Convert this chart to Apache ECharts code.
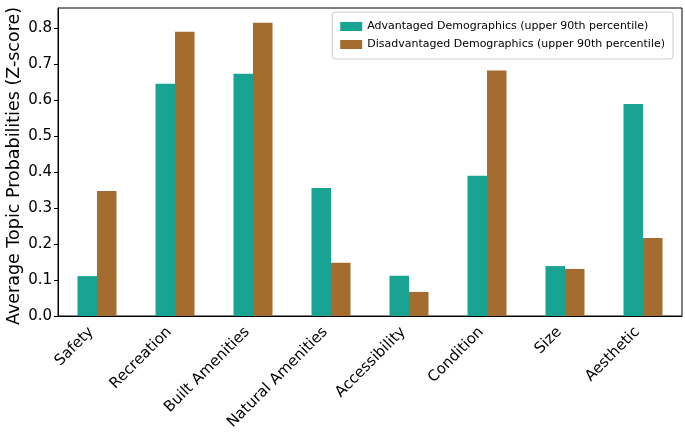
<!DOCTYPE html>
<html><head><meta charset="utf-8">
<script src="https://cdn.jsdelivr.net/npm/echarts@6/dist/echarts.min.js"></script>
<style>html,body{margin:0;padding:0;background:#fff}#c{width:685px;height:434px}</style>
</head><body><div id="c"></div>
<script>
var categories = ["Safety","Recreation","Built Amenities","Natural Amenities","Accessibility","Condition","Size","Aesthetic"];
var advantaged = [0.111,0.646,0.674,0.356,0.112,0.390,0.139,0.590];
var disadvantaged = [0.348,0.791,0.816,0.148,0.067,0.683,0.131,0.217];
var yTicks = [0.0,0.1,0.2,0.3,0.4,0.5,0.6,0.7,0.8];
var seriesNames = ["Advantaged Demographics (upper 90th percentile)","Disadvantaged Demographics (upper 90th percentile)"];
var F = "DejaVu Sans";
var chart = echarts.init(document.getElementById('c'), null, {renderer:'canvas'});
chart.setOption({
  animation:false,
  textStyle:{fontFamily:F},
  grid:{left:58,right:3,top:8,bottom:118,outerBoundsMode:'none',containLabel:false,show:true,borderColor:'#000',borderWidth:1,backgroundColor:'transparent'},
  legend:{orient:'vertical',right:12,top:12,itemWidth:22,itemHeight:9,itemGap:7,padding:[9,8,9,8],
    borderColor:'#ccc',borderWidth:1,borderRadius:3,
    textStyle:{fontFamily:F,fontSize:11,color:'#000'},data:seriesNames,icon:'rect'},
  xAxis:{type:'category',data:categories,
    axisLine:{lineStyle:{color:'#000'}},
    axisTick:{alignWithLabel:true,length:4,lineStyle:{color:'#000'}},
    axisLabel:{rotate:45,fontFamily:F,fontSize:15,color:'#000',margin:8,interval:0,padding:[0,8,0,0]}},
  yAxis:{type:'value',min:0,max:0.857,interval:0.1,
    name:'Average Topic Probabilities (Z-score)',nameLocation:'middle',nameGap:35,nameMoveOverlap:false,
    nameTextStyle:{fontFamily:F,fontSize:17.5,color:'#000',padding:[0,8,0,0]},
    splitLine:{show:false},
    axisLine:{show:true,lineStyle:{color:'#000'}},
    axisTick:{show:true,length:4,lineStyle:{color:'#000'}},
    axisLabel:{fontFamily:F,fontSize:15,color:'#000',margin:6,
      formatter:function(v){return yTicks.some(function(t){return Math.abs(t-v)<1e-6;})?v.toFixed(1):'';},
      showMaxLabel:false}},
  series:[
    {name:seriesNames[0],type:'bar',data:advantaged,barGap:'0%',barCategoryGap:'50%',itemStyle:{color:'#18a392'}},
    {name:seriesNames[1],type:'bar',data:disadvantaged,barGap:'0%',barCategoryGap:'50%',itemStyle:{color:'#a56c30'}}
  ]
});
</script></body></html>
